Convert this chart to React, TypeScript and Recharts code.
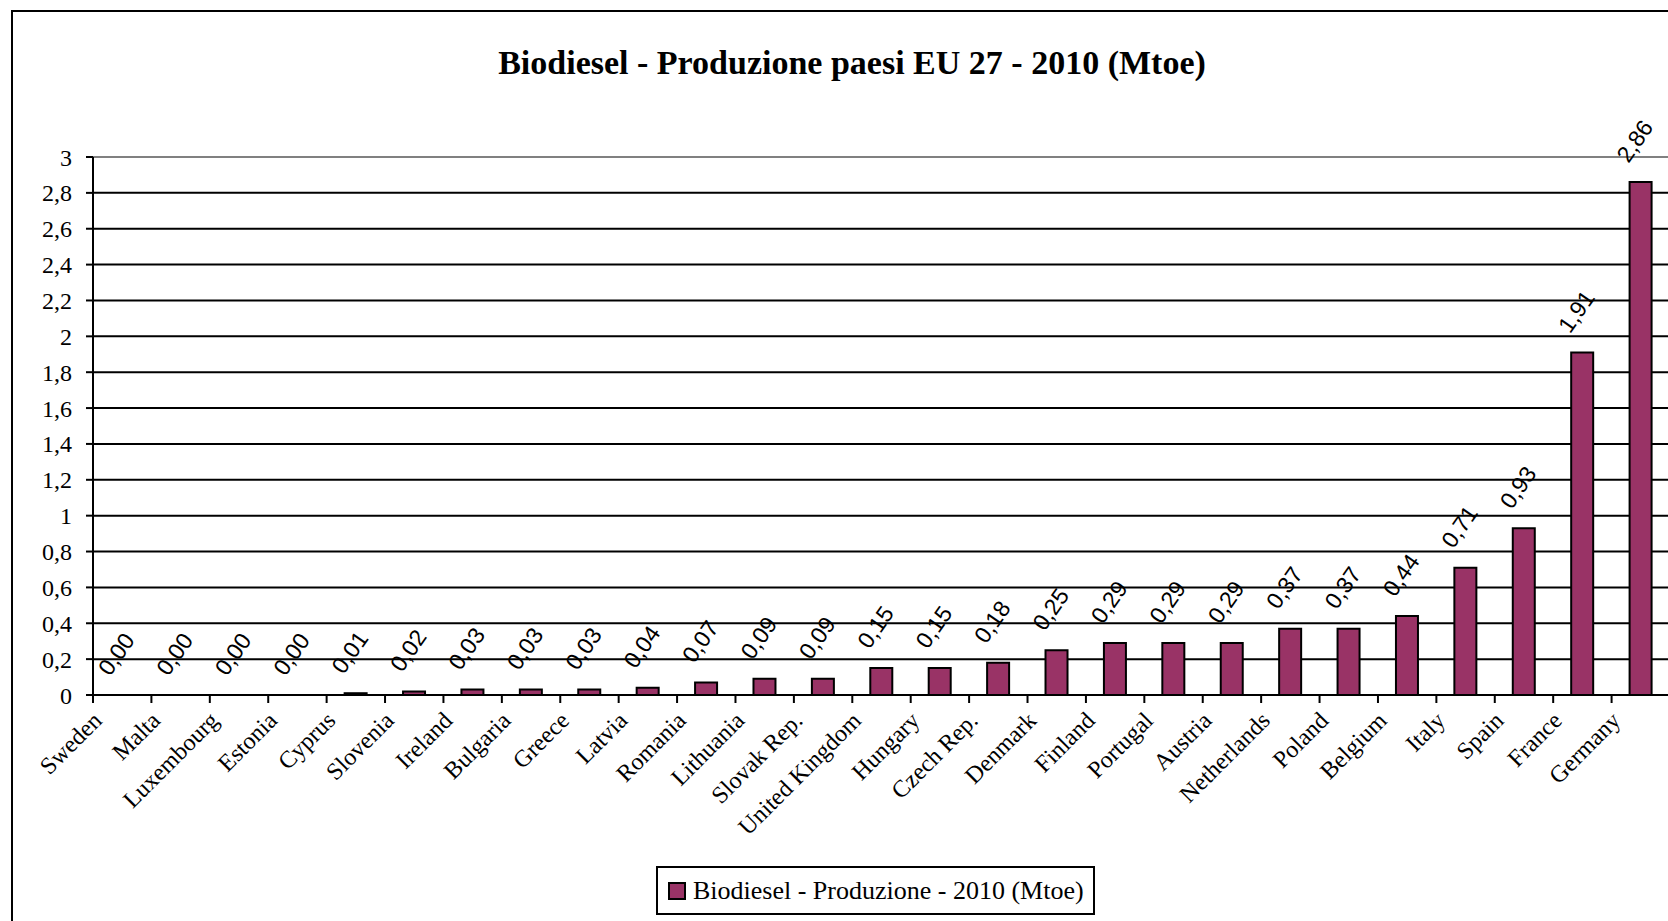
import React from 'react';
import { ComposedChart, Bar, Line, XAxis, YAxis, CartesianGrid, ReferenceLine, LabelList } from 'recharts';

const countries = [
  'Sweden', 'Malta', 'Luxembourg', 'Estonia', 'Cyprus', 'Slovenia', 'Ireland', 'Bulgaria', 'Greece',
  'Latvia', 'Romania', 'Lithuania', 'Slovak Rep.', 'United Kingdom', 'Hungary', 'Czech Rep.', 'Denmark',
  'Finland', 'Portugal', 'Austria', 'Netherlands', 'Poland', 'Belgium', 'Italy', 'Spain', 'France', 'Germany',
];
const production = [
  0.0, 0.0, 0.0, 0.0, 0.01, 0.02, 0.03, 0.03, 0.03,
  0.04, 0.07, 0.09, 0.09, 0.15, 0.15, 0.18, 0.25,
  0.29, 0.29, 0.29, 0.37, 0.37, 0.44, 0.71, 0.93, 1.91, 2.86,
];
const yTicks = [0, 0.2, 0.4, 0.6, 0.8, 1, 1.2, 1.4, 1.6, 1.8, 2, 2.2, 2.4, 2.6, 2.8, 3];

const TITLE = 'Biodiesel - Produzione paesi EU 27 - 2010 (Mtoe)';
const SERIES = 'Biodiesel - Produzione - 2010 (Mtoe)';
const BAR_COLOR = '#993366';
const SERIF = '"Liberation Serif", "Times New Roman", serif';
const SANS = '"Liberation Sans", Arial, sans-serif';

const CHART_W = 1690;
const CHART_H = 921;
const MARGIN = { top: 157, right: 20, left: 0, bottom: 76 };
const Y_AXIS_W = 93;
const STEP = (CHART_W - MARGIN.left - MARGIN.right - Y_AXIS_W) / countries.length;

const data = countries.map((country, i) => ({ country, value: production[i] }));

const fmt = (v: number, digits?: number) =>
  (digits === undefined ? String(v) : v.toFixed(digits)).replace('.', ',');

// Excel style: tick marks sit between categories, labels rotated 45deg
const CountryTick = (props: any) => {
  const { x, y, payload } = props;
  const tx = x - 19;
  const ty = y + 27;
  return (
    <g>
      <line x1={x - STEP / 2} y1={y} x2={x - STEP / 2} y2={y + 8} stroke="#000" strokeWidth={2} />
      <text
        x={tx}
        y={ty}
        textAnchor="end"
        fontFamily={SERIF}
        fontSize={24}
        fill="#000"
        transform={`rotate(-45, ${tx}, ${ty})`}
      >
        {payload.value}
      </text>
    </g>
  );
};

// labels hang off an invisible line so that zero bars still get one
const ValueLabel = (props: any) => {
  const { x, y, value } = props;
  const cx = x - 6;
  const cy = y - 41;
  return (
    <text
      x={cx}
      y={cy}
      textAnchor="middle"
      dominantBaseline="central"
      fontFamily={SANS}
      fontSize={23}
      fill="#000"
      transform={`rotate(-55, ${cx}, ${cy})`}
    >
      {fmt(value, 2)}
    </text>
  );
};

export default function App() {
  return (
    <div style={{ position: 'absolute', left: 0, top: 0, width: 1668, height: 921, overflow: 'hidden', background: '#fff' }}>
      <div style={{ position: 'absolute', left: 11, top: 10, width: 1720, height: 1000, border: '2px solid #000' }} />
      <div
        style={{
          position: 'absolute', left: 0, top: 42, width: 1704, textAlign: 'center',
          fontFamily: SERIF, fontWeight: 'bold', fontSize: 34, lineHeight: '42px', color: '#000',
        }}
      >
        {TITLE}
      </div>
      <div style={{ position: 'absolute', left: 0, top: 0 }}>
        <ComposedChart width={CHART_W} height={CHART_H} data={data} margin={MARGIN}>
          <CartesianGrid horizontal vertical={false} stroke="#000" strokeWidth={2} />
          <ReferenceLine y={3} stroke="#808080" strokeWidth={2} />
          <XAxis
            dataKey="country"
            interval={0}
            height={150}
            tickSize={0}
            tickMargin={0}
            tickLine={false}
            axisLine={{ stroke: '#000', strokeWidth: 2 }}
            tick={<CountryTick />}
          />
          <YAxis
            width={Y_AXIS_W}
            domain={[0, 3]}
            ticks={yTicks}
            interval={0}
            tickSize={7}
            tickMargin={14}
            axisLine={{ stroke: '#000', strokeWidth: 2 }}
            tickLine={{ stroke: '#000', strokeWidth: 2 }}
            tick={{ fill: '#000', fontFamily: SERIF, fontSize: 24 }}
            tickFormatter={(v: number) => fmt(v)}
          />
          <Bar dataKey="value" fill={BAR_COLOR} stroke="#000" strokeWidth={2} barSize={22} isAnimationActive={false} />
          <Line dataKey="value" stroke="none" dot={false} activeDot={false} legendType="none" isAnimationActive={false}>
            <LabelList dataKey="value" content={<ValueLabel />} />
          </Line>
        </ComposedChart>
      </div>
      <div
        style={{
          position: 'absolute', left: 656, top: 866, width: 435, height: 45, border: '2px solid #000',
          display: 'flex', alignItems: 'center', fontFamily: SERIF, fontSize: 26, color: '#000', boxSizing: 'content-box',
        }}
      >
        <span style={{ display: 'inline-block', width: 14, height: 14, background: BAR_COLOR, border: '2px solid #000', marginLeft: 10, marginRight: 7 }} />
        <span>{SERIES}</span>
      </div>
    </div>
  );
}
